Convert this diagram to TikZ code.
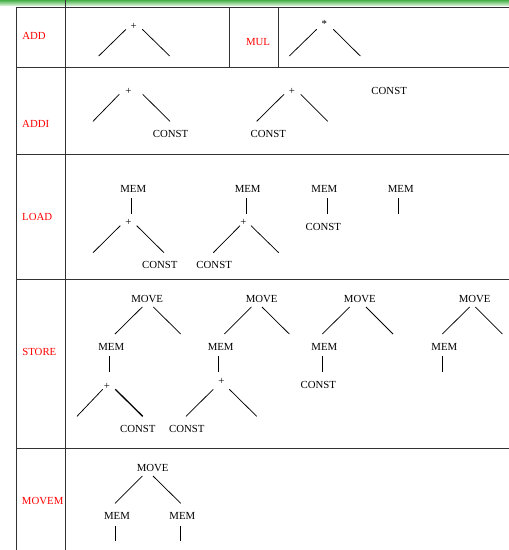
\documentclass[tikz,border=0pt]{standalone}
\usepackage{fontspec}
\setmainfont{Liberation Serif}
\definecolor{gtop}{RGB}{70,175,70}
\definecolor{gbot}{RGB}{215,242,215}
\definecolor{rulec}{RGB}{50,50,50}
\tikzset{
  txt/.style={inner sep=0pt, font=\fontsize{10.8}{12}\selectfont, text=black},
  lab/.style={inner sep=0pt, font=\fontsize{10.8}{12}\selectfont, text=red},
  br/.style={line width=0.75pt, black},
  rl/.style={line width=1pt, rulec}
}
\newcommand{\sh}[3]{([shift={(#2,#3)}]#1.center)}
\begin{document}
\begin{tikzpicture}[x=1pt,y=-1pt]
\useasboundingbox (0,0) rectangle (509,550);
% green bar
\shade[top color=gtop, bottom color=gbot] (0,0) rectangle (509,5.5);
% table
\draw[rl] (65.5,0) -- (65.5,550);
\draw[rl] (16.5,7) -- (16.5,550);
\draw[rl] (16.5,7) -- (509,7);
\draw[rl] (16.5,67) -- (509,67);
\draw[rl] (16.5,154) -- (509,154);
\draw[rl] (16.5,279.5) -- (509,279.5);
\draw[rl] (16.5,448.5) -- (509,448.5);
\draw[rl] (229.3,7) -- (229.3,67);
\draw[rl] (278.3,7) -- (278.3,67);
% labels
\node[lab] (lADD) at (34,36) {ADD};
\node[lab] (lMUL) at (258,41.7) {MUL};
\node[lab] (lADDI) at (35.7,123.7) {ADDI};
\node[lab] (lLOAD) at (37.2,216.7) {LOAD};
\node[lab] (lSTORE) at (39.3,352.3) {STORE};
\node[lab] (lMOVEM) at (42.7,500.7) {MOVEM};
% ADD
\node[txt] (a1) at (133.7,26) {+};
\draw[br] \sh{a1}{-7.7}{3.3} -- \sh{a1}{-35}{30};
\draw[br] \sh{a1}{8.6}{3.3} -- \sh{a1}{36}{30};
% MUL
\node[txt] (m1) at (324.3,23.7) {*};
\draw[br] \sh{m1}{-7.6}{5.6} -- \sh{m1}{-35}{32.3};
\draw[br] \sh{m1}{9}{5.6} -- \sh{m1}{36}{32.3};
% ADDI
\node[txt] (b1) at (128.3,91.7) {+};
\draw[br] \sh{b1}{-9}{2.6} -- \sh{b1}{-35.3}{29.6};
\draw[br] \sh{b1}{14.4}{2.6} -- \sh{b1}{41.7}{29.6};
\node[txt] (b1c) at (170.5,134.3) {CONST};
\node[txt] (b2) at (292,91.7) {+};
\draw[br] \sh{b2}{-8}{2.6} -- \sh{b2}{-35.3}{29.6};
\draw[br] \sh{b2}{8.7}{2.6} -- \sh{b2}{35.7}{29.6};
\node[txt] (b2c) at (268.3,134.3) {CONST};
\node[txt] (b3c) at (389.2,91) {CONST};
% LOAD
\node[txt] (c1m) at (133.3,189.3) {MEM};
\draw[br] \sh{c1m}{-2.3}{9} -- \sh{c1m}{-2.3}{24.7};
\node[txt] (c1p) at (128.3,222.7) {+};
\draw[br] \sh{c1p}{-8}{3} -- \sh{c1p}{-35.3}{30};
\draw[br] \sh{c1p}{8.4}{3} -- \sh{c1p}{35.7}{30};
\node[txt] (c1c) at (159.8,265) {CONST};
\node[txt] (c2m) at (247.7,189.3) {MEM};
\draw[br] \sh{c2m}{-1.7}{9} -- \sh{c2m}{-1.7}{24.7};
\node[txt] (c2p) at (243.3,222.7) {+};
\draw[br] \sh{c2p}{-3.3}{3} -- \sh{c2p}{-30}{30};
\draw[br] \sh{c2p}{7.7}{3} -- \sh{c2p}{35.4}{30};
\node[txt] (c2c) at (214.2,265) {CONST};
\node[txt] (c3m) at (324.3,189.3) {MEM};
\draw[br] \sh{c3m}{3.4}{9} -- \sh{c3m}{3.4}{24.7};
\node[txt] (c3c) at (323.3,227.3) {CONST};
\node[txt] (c4m) at (400.7,189.3) {MEM};
\draw[br] \sh{c4m}{-2}{9} -- \sh{c4m}{-2}{24.7};
% STORE tree 1
\node[txt] (d1v) at (147.2,298.7) {MOVE};
\draw[br] \sh{d1v}{-4.9}{8.3} -- \sh{d1v}{-32.2}{35.3};
\draw[br] \sh{d1v}{6.1}{8.3} -- \sh{d1v}{33.5}{35.3};
\node[txt] (d1m) at (111.3,347) {MEM};
\draw[br] \sh{d1m}{-1.6}{9.3} -- \sh{d1m}{-1.6}{25.3};
\node[txt] (d1p) at (107,386) {+};
\draw[br] \sh{d1p}{-4.3}{3.3} -- \sh{d1p}{-30}{30.3};
\draw[br, line width=1.3pt] \sh{d1p}{8.3}{3.3} -- \sh{d1p}{35.7}{30.3};
\node[txt] (d1c) at (137.8,429.3) {CONST};
% STORE tree 2
\node[txt] (d2v) at (261.7,298.7) {MOVE};
\draw[br] \sh{d2v}{-10.4}{8.3} -- \sh{d2v}{-37.4}{35.3};
\draw[br] \sh{d2v}{0.3}{8.3} -- \sh{d2v}{27.6}{35.3};
\node[txt] (d2m) at (220.7,347) {MEM};
\draw[br] \sh{d2m}{-2}{9.3} -- \sh{d2m}{-2}{25.3};
\node[txt] (d2p) at (221.3,381.3) {+};
\draw[br] \sh{d2p}{-8}{8} -- \sh{d2p}{-35.3}{35};
\draw[br] \sh{d2p}{8}{8} -- \sh{d2p}{35.4}{35};
\node[txt] (d2c) at (186.8,429.3) {CONST};
% STORE tree 3
\node[txt] (d3v) at (359.8,298.7) {MOVE};
\draw[br] \sh{d3v}{-10.1}{8.3} -- \sh{d3v}{-37.5}{35.3};
\draw[br] \sh{d3v}{6.2}{8.3} -- \sh{d3v}{33.2}{35.3};
\node[txt] (d3m) at (324.3,347) {MEM};
\draw[br] \sh{d3m}{-2.3}{9.3} -- \sh{d3m}{-2.3}{25.3};
\node[txt] (d3c) at (318.3,385) {CONST};
% STORE tree 4
\node[txt] (d4v) at (474.7,298.7) {MOVE};
\draw[br] \sh{d4v}{-5}{8.3} -- \sh{d4v}{-32.4}{35.3};
\draw[br] \sh{d4v}{0.6}{8.3} -- \sh{d4v}{27.6}{35.3};
\node[txt] (d4m) at (444.3,347) {MEM};
\draw[br] \sh{d4m}{-2}{9.3} -- \sh{d4m}{-2}{25.3};
% MOVEM
\node[txt] (e1v) at (152.7,467.7) {MOVE};
\draw[br] \sh{e1v}{-10.4}{8.3} -- \sh{e1v}{-37.7}{35.6};
\draw[br] \sh{e1v}{0.3}{8.3} -- \sh{e1v}{28}{35.6};
\node[txt] (e1m) at (117,516.3) {MEM};
\draw[br] \sh{e1m}{-2}{9.4} -- \sh{e1m}{-2}{25};
\node[txt] (e2m) at (182.3,516.3) {MEM};
\draw[br] \sh{e2m}{-2}{9.4} -- \sh{e2m}{-2}{25};
\end{tikzpicture}
\end{document}
